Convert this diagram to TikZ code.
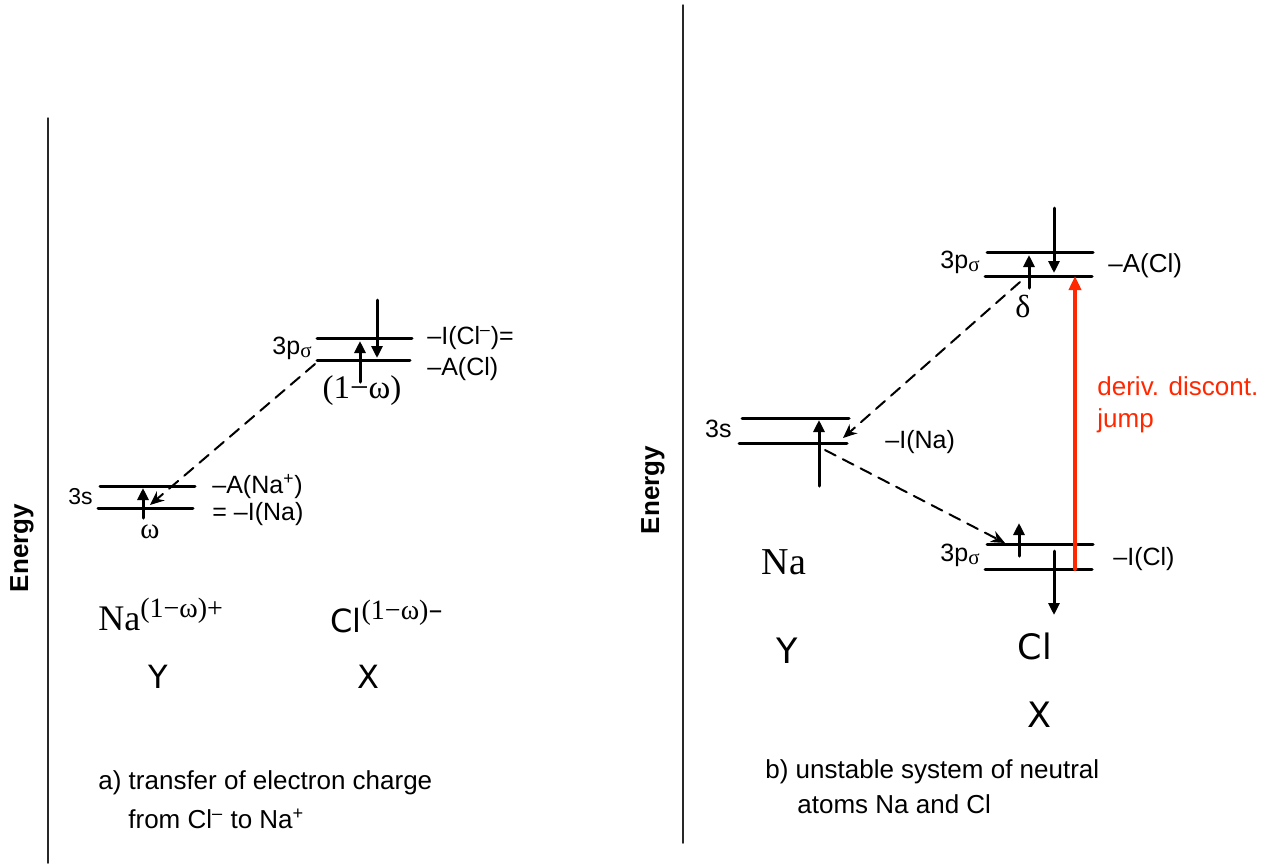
\documentclass[tikz,border=0pt]{standalone}
\usepackage{fontspec}
\setmainfont{Liberation Sans}
\newfontfamily\tmsfont{Liberation Serif}
\newfontfamily\lucfont{DejaVu Sans}
\usepackage{tkz-euclide}
\usetikzlibrary{arrows.meta}
\definecolor{jumpred}{RGB}{255,40,0}
\definecolor{framegray}{RGB}{40,40,40}

\tikzset{
  orbline/.style={line width=1.5pt},
  spinarrow/.style={line width=1.5pt,-{Triangle[length=6pt,width=5.5pt]}},
  hoparrow/.style={line width=1pt,dash pattern=on 6pt off 4pt,-{Stealth[length=7pt,width=6pt]}},
  framerule/.style={line width=0.75pt,framegray},
  lbl/.style={inner sep=0pt,font=\fontsize{12.5}{14}\selectfont},
  orblbl/.style={inner sep=0pt,font=\fontsize{12.5}{14}\selectfont},
  atomlbl/.style={inner sep=0pt,font=\fontsize{16}{18}\selectfont\lucfont},
  greeklbl/.style={inner sep=0pt,font=\fontsize{16}{18}\selectfont\tmsfont},
  enlbl/.style={inner sep=0pt,rotate=90,font=\fontsize{13}{15}\selectfont\bfseries}
}

\newcommand{\psig}{3p\textsubscript{\fontsize{10.5}{12}\selectfont\tmsfont σ}}

\begin{document}
\begin{tikzpicture}[x=0.5pt,y=-0.5pt]
\useasboundingbox (0,0) rectangle (1281,863);

\tkzDefPoint(48,118){fA}
\tkzDefPoint(48,863){fB}
\tkzDrawSegment[framerule](fA,fB)
\tkzDefPoint(683,5){fC}
\tkzDefPoint(683,843){fD}
\tkzDrawSegment[framerule](fC,fD)

\node[enlbl] (enA) at (22,548) {Energy};
\node[enlbl] (enB) at (653,490) {Energy};

% a) charge transfer
\tkzDefPoint(100,486){aS1}
\tkzDefPoint(195,486){aS2}
\tkzDefPoint(98,508){aS3}
\tkzDefPoint(193,508){aS4}
\tkzDrawSegment[orbline](aS1,aS2)
\tkzDrawSegment[orbline](aS3,aS4)
  \tkzDefPoint(143,518){aSu}
  \tkzDefPoint(143,488){aSv}
  \tkzDrawSegment[spinarrow](aSu,aSv)

\tkzDefPoint(317,338){aP1}
\tkzDefPoint(412,338){aP2}
\tkzDefPoint(317,360){aP3}
\tkzDefPoint(410,360){aP4}
\tkzDrawSegment[orbline](aP1,aP2)
\tkzDrawSegment[orbline](aP3,aP4)
  \tkzDefPoint(377,300){aPd}
  \tkzDefPoint(377,358){aPe}
  \tkzDrawSegment[spinarrow](aPd,aPe)
  \tkzDefPoint(360,382){aPu}
  \tkzDefPoint(360,341){aPv}
  \tkzDrawSegment[spinarrow](aPu,aPv)

\tkzDefPoint(315,364){aH1}
\tkzDefPoint(150,505){aH2}
\tkzDrawSegment[hoparrow](aH1,aH2)

\node[orblbl,anchor=base east,font=\fontsize{11.5}{13}\selectfont] (aSlbl) at (93,504) {3s};
\node[lbl,anchor=base west] (aAna) at (212,493) {–A(Na\textsuperscript{+})};
\node[lbl,anchor=base west] (aIna) at (212,520) {= –I(Na)};
\node[greeklbl,anchor=base,font=\fontsize{14.5}{16}\selectfont\tmsfont] (aOm) at (150,538) {ω};

\node[orblbl,anchor=base east] (aPlbl) at (313,354) {\psig};
\node[lbl,anchor=base west] (aIcl) at (427,344) {–I(Cl\textsuperscript{–})=};
\node[lbl,anchor=base west] (aAcl) at (427,375) {–A(Cl)};
\node[greeklbl,anchor=base,font=\fontsize{16.5}{18}\selectfont\tmsfont] (aOmm) at (362,398) {(1−ω)};

\node[inner sep=0pt,anchor=base west,font=\fontsize{18}{20}\selectfont\tmsfont] (aNa) at (98,630)
  {Na\textsuperscript{\fontsize{14}{16}\selectfont (1−ω)+}};
\node[atomlbl,anchor=base west] (aCl) at (330,632)
  {Cl\textsuperscript{\fontsize{14}{16}\selectfont\tmsfont (1−ω)\lucfont –}};
\node[atomlbl,anchor=base] (aY) at (158,688) {Y};
\node[atomlbl,anchor=base] (aX) at (368,688) {X};

\node[lbl,anchor=base west,font=\fontsize{13}{15}\selectfont] (aCap1) at (98,789) {a) transfer of electron charge};
\node[lbl,anchor=base west,font=\fontsize{13}{15}\selectfont] (aCap2) at (128,828) {from Cl\textsuperscript{–} to Na\textsuperscript{+}};

% b) neutral atoms
\tkzDefPoint(742,418){bS1}
\tkzDefPoint(849,418){bS2}
\tkzDefPoint(739,443){bS3}
\tkzDefPoint(847,443){bS4}
\tkzDrawSegment[orbline](bS1,bS2)
\tkzDrawSegment[orbline](bS3,bS4)
  \tkzDefPoint(819,486){bSu}
  \tkzDefPoint(819,420){bSv}
  \tkzDrawSegment[spinarrow](bSu,bSv)

\tkzDefPoint(987,252){bA1}
\tkzDefPoint(1093,252){bA2}
\tkzDefPoint(985,276){bA3}
\tkzDefPoint(1092,276){bA4}
\tkzDrawSegment[orbline](bA1,bA2)
\tkzDrawSegment[orbline](bA3,bA4)
  \tkzDefPoint(1054,208){bAd}
  \tkzDefPoint(1054,273){bAe}
  \tkzDrawSegment[spinarrow](bAd,bAe)
  \tkzDefPoint(1029,288){bAu}
  \tkzDefPoint(1029,255){bAv}
  \tkzDrawSegment[spinarrow](bAu,bAv)

\tkzDefPoint(987,544){bI1}
\tkzDefPoint(1093,544){bI2}
\tkzDefPoint(985,569){bI3}
\tkzDefPoint(1092,569){bI4}
\tkzDrawSegment[orbline](bI1,bI2)
\tkzDrawSegment[orbline](bI3,bI4)
  \tkzDefPoint(1019,556){bIu}
  \tkzDefPoint(1019,523){bIv}
  \tkzDrawSegment[spinarrow](bIu,bIv)
  \tkzDefPoint(1054,551){bId}
  \tkzDefPoint(1054,615){bIe}
  \tkzDrawSegment[spinarrow](bId,bIe)

\tkzDefPoint(1020,282){bH1}
\tkzDefPoint(843,438){bH2}
\tkzDrawSegment[hoparrow](bH1,bH2)
\tkzDefPoint(825,450){bH3}
\tkzDefPoint(1005,543){bH4}
\tkzDrawSegment[hoparrow](bH3,bH4)

\tkzDefPoint(1075,569){bJ1}
\tkzDefPoint(1075,276){bJ2}
\tkzDrawSegment[jumpred,line width=2pt,-{Triangle[length=7pt,width=6pt]}](bJ1,bJ2)

\node[orblbl,anchor=base east] (bSlbl) at (732,437) {3s};
\node[lbl,anchor=base west] (bIna) at (885,448) {–I(Na)};
\node[orblbl,anchor=base east] (bAlbl) at (981,268) {\psig};
\node[lbl,anchor=base west,font=\fontsize{13}{15}\selectfont] (bAcl) at (1108,272) {–A(Cl)};
\node[orblbl,anchor=base east] (bIlbl) at (981,561) {\psig};
\node[lbl,anchor=base west] (bIcl) at (1113,565) {–I(Cl)};
\node[greeklbl,anchor=base] (bDel) at (1023,317) {δ};

\node[lbl,anchor=base west,text=jumpred,font=\fontsize{13}{15}\selectfont] (bJmp1) at (1097,395) {deriv. discont.};
\node[lbl,anchor=base west,text=jumpred,font=\fontsize{13}{15}\selectfont] (bJmp2) at (1097,427) {jump};

\node[inner sep=0pt,anchor=base,font=\fontsize{19}{21}\selectfont\tmsfont] (bNa) at (784,574) {Na};
\node[atomlbl,anchor=base,font=\fontsize{17.5}{20}\selectfont\lucfont] (bY) at (787,663) {Y};
\node[atomlbl,anchor=base,font=\fontsize{17.5}{20}\selectfont\lucfont] (bCl) at (1035,659) {Cl};
\node[atomlbl,anchor=base,font=\fontsize{17.5}{20}\selectfont\lucfont] (bX) at (1039,727) {X};

\node[lbl,anchor=base west,font=\fontsize{13}{15}\selectfont] (bCap1) at (765,778) {b) unstable system of neutral};
\node[lbl,anchor=base west,font=\fontsize{13}{15}\selectfont] (bCap2) at (797,813) {atoms Na and Cl};

\end{tikzpicture}
\end{document}
